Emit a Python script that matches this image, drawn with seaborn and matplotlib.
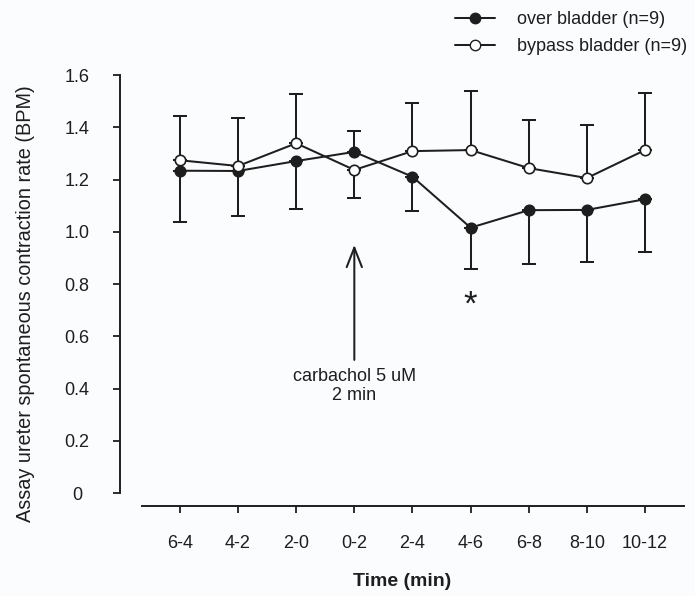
import matplotlib
matplotlib.use('Agg')
import matplotlib.pyplot as plt
from matplotlib.lines import Line2D
import seaborn as sns
import numpy as np
import pandas as pd

# data
time_labels = ['6-4', '4-2', '2-0', '0-2', '2-4', '4-6', '6-8', '8-10', '10-12']
over_mean = [1.234, 1.233, 1.271, 1.306, 1.211, 1.016, 1.083, 1.084, 1.125]
over_err_lo = [0.196, 0.172, 0.182, 0.0, 0.131, 0.158, 0.207, 0.198, 0.203]
over_err_hi = [0.0, 0.0, 0.0, 0.081, 0.0, 0.0, 0.0, 0.0, 0.0]
bypass_mean = [1.274, 1.252, 1.339, 1.237, 1.309, 1.313, 1.244, 1.206, 1.313]
bypass_err_lo = [0.0, 0.0, 0.0, 0.106, 0.0, 0.0, 0.0, 0.0, 0.0]
bypass_err_hi = [0.169, 0.182, 0.187, 0.0, 0.183, 0.227, 0.183, 0.203, 0.217]
yticks = [0, 0.2, 0.4, 0.6, 0.8, 1.0, 1.2, 1.4, 1.6]
ytick_labels = ['0', '0.2', '0.4', '0.6', '0.8', '1.0', '1.2', '1.4', '1.6']

sns.set_style('ticks')
plt.rcParams['font.family'] = ['Liberation Sans', 'DejaVu Sans']

ink = '#1e1e1e'
bg = '#fbfcfd'

df = pd.DataFrame({
    'x': np.arange(len(time_labels)),
    'over': over_mean,
    'bypass': bypass_mean,
})

fig = plt.figure(figsize=(6.95, 5.96), dpi=100, facecolor=bg)
ax = fig.add_axes([120 / 695, 90 / 596, 564 / 695, 444 / 596])
ax.set_facecolor(bg)

# error bars first (one-sided, SigmaPlot style)
ax.errorbar(df['x'], df['over'], yerr=[over_err_lo, over_err_hi], fmt='none',
            ecolor=ink, elinewidth=1.45, capsize=4.7, capthick=1.45, zorder=1)
ax.errorbar(df['x'], df['bypass'], yerr=[bypass_err_lo, bypass_err_hi], fmt='none',
            ecolor=ink, elinewidth=1.45, capsize=4.7, capthick=1.45, zorder=1)

sns.lineplot(data=df, x='x', y='over', ax=ax, color=ink, lw=1.45, marker='o',
             markersize=7.5, markerfacecolor=ink, markeredgecolor=ink,
             markeredgewidth=1.2, zorder=3)
sns.lineplot(data=df, x='x', y='bypass', ax=ax, color=ink, lw=1.45, marker='o',
             markersize=7.5, markerfacecolor='white', markeredgecolor=ink,
             markeredgewidth=1.2, zorder=3)

ax.set_xlim(-1.03, 8.67)
ax.set_ylim(-0.049, 1.65)
ax.set_xticks(df['x'])
ax.set_xticklabels(time_labels)
ax.set_yticks(yticks)
ax.set_yticklabels(ytick_labels, ha='center')
ax.tick_params(axis='both', colors=ink, labelsize=13, length=5, width=1.3)
ax.tick_params(axis='x', pad=16)
ax.tick_params(axis='y', pad=26)

for s in ['top', 'right']:
    ax.spines[s].set_visible(False)
ax.spines['left'].set_bounds(0, 1.6)
ax.spines['bottom'].set_bounds(-0.65, 8.67)
for s in ['left', 'bottom']:
    ax.spines[s].set_color(ink)
    ax.spines[s].set_linewidth(1.4)

ax.set_xlabel('Time (min)', fontsize=14, fontweight='bold', color=ink)
ax.xaxis.set_label_coords(0.5, -0.15)
ax.set_ylabel('Assay ureter spontaneous contraction rate (BPM)', fontsize=14.3, color=ink)
ax.yaxis.set_label_coords(-0.151, 0.455)

# carbachol arrow + note
ax.annotate('', xy=(3, 0.95), xytext=(3, 0.51),
            arrowprops=dict(arrowstyle='->,head_length=1.4,head_width=0.55',
                            lw=1.45, color=ink, shrinkA=0, shrinkB=0))
ax.text(3, 0.478, 'carbachol 5 uM\n2 min', ha='center', va='top',
        fontsize=13, color=ink, linespacing=1.1)
ax.text(5, 0.685, '*', ha='center', va='baseline', fontsize=25, color=ink)

handles = [
    Line2D([], [], color=ink, lw=1.45, marker='o', markersize=7.5,
           markerfacecolor=ink, markeredgecolor=ink),
    Line2D([], [], color=ink, lw=1.45, marker='o', markersize=7.5,
           markerfacecolor='white', markeredgecolor=ink),
]
fig.legend(handles, ['over bladder (n=9)', 'bypass bladder (n=9)'],
           loc='upper left', bbox_to_anchor=(455 / 695, 1 - 11 / 596),
           frameon=False, fontsize=13, handlelength=2.2, handletextpad=1.22,
           labelspacing=0.56, borderpad=0, borderaxespad=0, labelcolor=ink)

fig.savefig('out.png', dpi=100, facecolor=bg)
